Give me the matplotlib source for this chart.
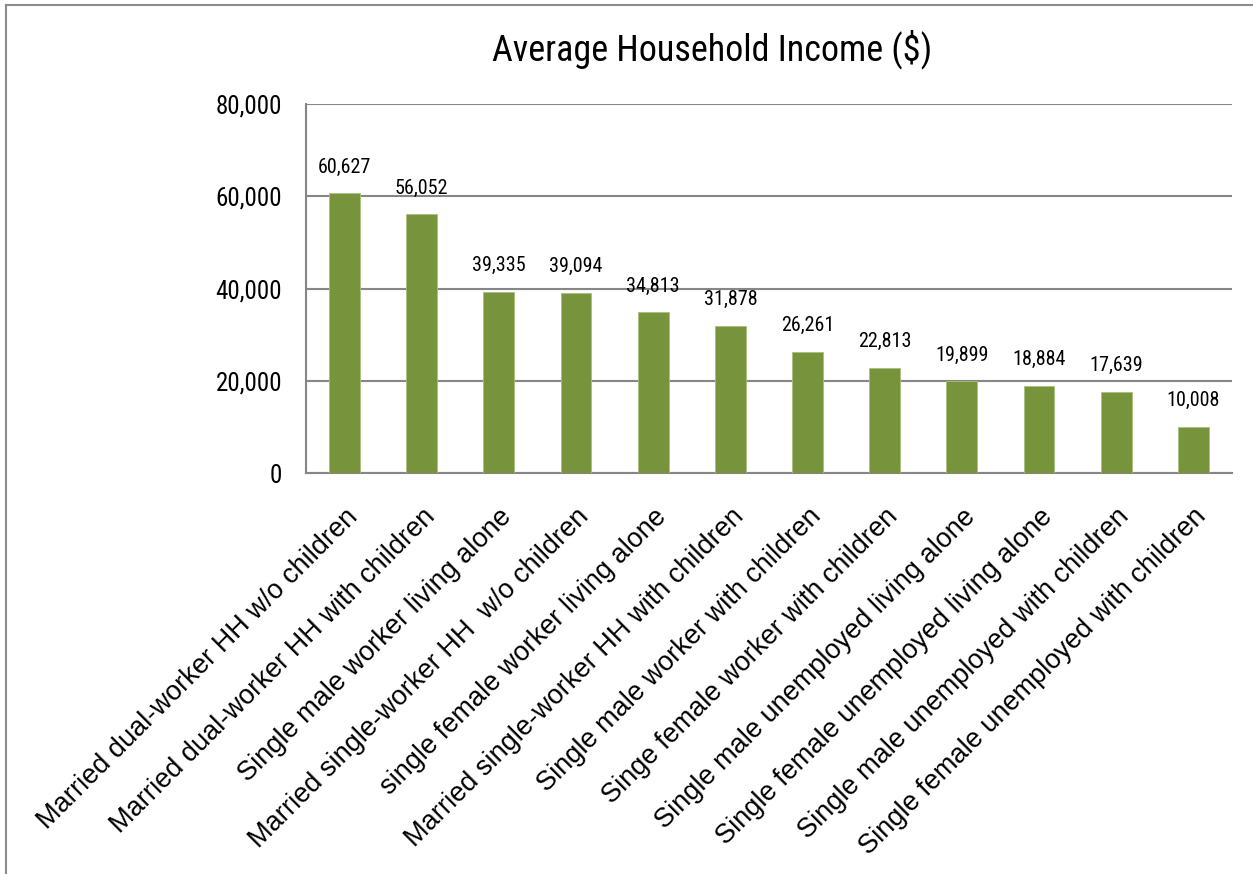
import matplotlib
matplotlib.use('Agg')
import matplotlib.pyplot as plt

categories = ['Married dual-worker HH w/o children',
              'Married dual-worker HH with children',
              'Single male worker living alone',
              'Married single-worker HH  w/o children',
              'single female worker living alone',
              'Married single-worker HH with children',
              'Single male worker with children',
              'Singe female worker with children',
              'Single male unemployed living alone',
              'Single female unemployed living alone',
              'Single male unemployed with children',
              'Single female unemployed with children']
income = [60627, 56052, 39335, 39094, 34813, 31878, 26261, 22813, 19899, 18884, 17639, 10008]
yticks = [0, 20000, 40000, 60000, 80000]

narrow = ['Roboto Condensed', 'DejaVu Sans']
bar_color = '#77933C'
grid_color = '#868686'

fig = plt.figure(figsize=(12.53, 8.74), dpi=100)
ax = fig.add_axes([0.2442, 0.4588, 0.739, 0.4222])

x = range(len(categories))
ax.bar(x, income, width=0.4, color=bar_color, edgecolor='#a9c07a', linewidth=0.6, zorder=3)
for i, v in enumerate(income):
    ax.annotate(f'{v:,}', (i, v), xytext=(0, 12), textcoords='offset points',
                ha='center', va='bottom', fontsize=14.5, family=narrow, stretch='condensed')

ax.set_xlim(-0.5, len(categories) - 0.5)
ax.set_ylim(0, 80000)
ax.set_yticks(yticks)
ax.set_yticklabels([f'{t:,}' for t in yticks], family=narrow, stretch='condensed', fontsize=18)
ax.yaxis.grid(True, color=grid_color, linewidth=1.5, zorder=0)
ax.tick_params(axis='y', length=0, pad=17)
ax.tick_params(axis='x', length=0, pad=22)
ax.set_xticks(list(x))
ax.set_xticklabels(categories, rotation=45, ha='right', rotation_mode='anchor',
                   family='Liberation Sans', fontsize=19.5)
for s in ['top', 'right']:
    ax.spines[s].set_visible(False)
for s in ['left', 'bottom']:
    ax.spines[s].set_color(grid_color)
    ax.spines[s].set_linewidth(1.5)

fig.text(0.568, 0.944, 'Average Household Income ($)', ha='center', va='center',
         fontsize=26, family=narrow, stretch='condensed')

# outer frame lines (left and top)
fig.add_artist(plt.Line2D([0.005, 0.005], [0, 0.994], color='#8c8c8c', linewidth=1.5))
fig.add_artist(plt.Line2D([0.005, 1], [0.994, 0.994], color='#8c8c8c', linewidth=1.5))

fig.savefig('out.png', dpi=100)
